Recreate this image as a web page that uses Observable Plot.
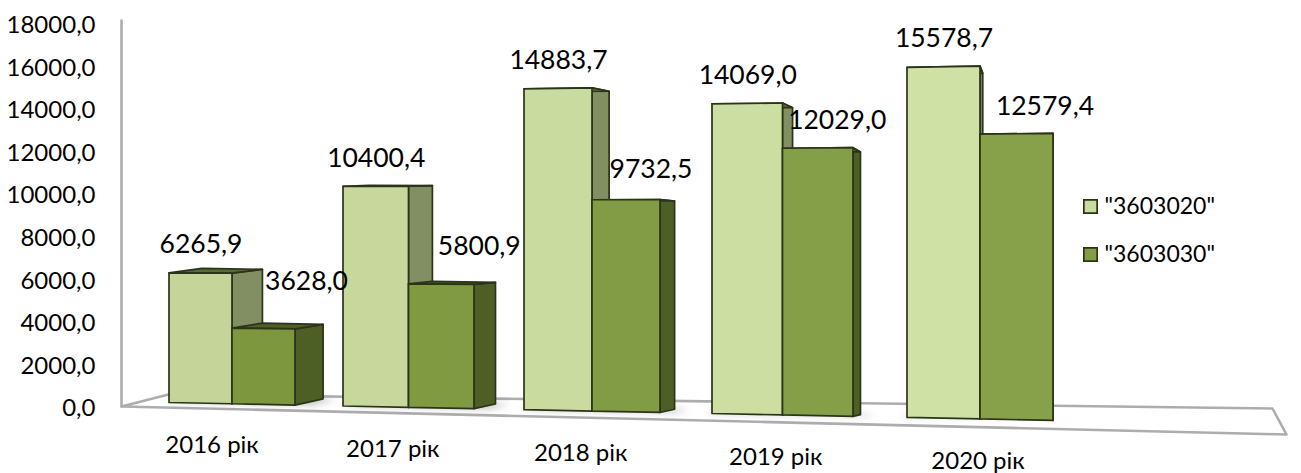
<!DOCTYPE html>
<html><head><meta charset="utf-8">
<script src="https://cdn.jsdelivr.net/npm/d3@7"></script>
<script src="https://cdn.jsdelivr.net/npm/@observablehq/plot@0.6"></script>
<style>
html,body{margin:0;padding:0;background:#fff}
svg{display:block}
g[aria-label="line"][fill="#7f7f7f"]{filter:blur(3.5px)}
g[aria-label="line"][stroke="#2b3419"]{filter:blur(.4px)}
g[aria-label="line"][stroke="#adadad"]{filter:blur(.5px)}
</style></head><body><div id="chart"></div>
<script>
// ---- data ----
const categories = ["2016 рік","2017 рік","2018 рік","2019 рік","2020 рік"];
const seriesNames = ['"3603020"','"3603030"'];
const series3603020 = [6265.9,10400.4,14883.7,14069.0,15578.7];
const series3603030 = [3628.0,5800.9,9732.5,12029.0,12579.4];
const yTicks = [0,2000,4000,6000,8000,10000,12000,14000,16000,18000];

// ---- look ----
const W = 1301, H = 473;
const yBase = 407, yTop = 24;                 // pixel range of the value axis
const unit = (yBase - yTop) / 18000;          // px per value unit on the wall
const toU = px => (yBase - px) / unit;        // pixel offset -> axis units
const comma = v => d3.format(".1f")(v).replace(".", ",");
const outline = "#2b3419";
const frontA = d3.interpolateRgb("#c5d59a", "#cfe1a5");
const frontB = d3.interpolateRgb("#7c973e", "#86a14a");
const sideA = "#818f63", topA = "#5b6b36", sideB = "#4e5f26", topB = "#4f6026";

// ---- oblique projection of the 3-D column chart ----
const leftOf = c => 168.5 + 170.5 * c + 3.5 * c * c;
const widthOf = c => 63 + 2.5 * c;
const xFront = (c, s) => leftOf(c) + s * widthOf(c);
const floorAt = x => 402 + (x - 169) * 0.0203;
const kAt = x => 0.0207 + (x - 169) * 0.0000024;
function P(c, s, d, v) {
  const x0 = xFront(c, s);
  const dx = (1054 - x0) * 0.037 * d;
  const py = floorAt(x0) - 0.22 * dx - v * kAt(x0) * (1 - 0.022 * d);
  return {x: x0 + dx, y: toU(py)};
}
function closed(...pts){ return [...pts, pts[0]]; }
function face(pts, fill) {
  return Plot.line(pts, {x:"x", y:"y", fill, stroke: outline, strokeWidth: 1.7});
}
function column(c, s, v, front, side, top) {
  const a = s, b = s + 1;
  return [
    face(closed(P(c,b,0,0),P(c,b,1,0),P(c,b,1,v),P(c,b,0,v)), side),
    face(closed(P(c,a,0,v),P(c,b,0,v),P(c,b,1,v),P(c,a,1,v)), top),
    face(closed(P(c,a,0,0),P(c,b,0,0),P(c,b,0,v),P(c,a,0,v)), front)
  ];
}

// floor and wall
const floorPts = closed(
  {x:121,y:toU(406)},{x:1286,y:toU(434)},{x:1272,y:toU(408)},{x:168,y:toU(394)}
);
const wallPts = [{x:121,y:toU(406)},{x:121,y:toU(20)}];

// category labels follow the front edge of the floor
const catRows = categories.map((name,c) => {
  const gc = xFront(c,1);
  return {name, x: gc - (1000 - gc) * 0.024 - 1.5, y: toU(floorAt(gc) + 42)};
});
// value labels
const nudgeB = [[43,-47],[38,-38],[25,-30],[19.5,-27],[28.5,-27]];
const labelRows = [
  ...series3603020.map((v,c) => {
    const x0 = xFront(c,0.5), top = yBase - P(c,0.5,0,v).y * unit;
    return {t: comma(v), x: x0 + 0.5, y: toU(top - 28)};
  }),
  ...series3603030.map((v,c) => {
    const x0 = xFront(c,1.5), top = yBase - P(c,1.5,0,v).y * unit;
    return {t: comma(v), x: x0 + nudgeB[c][0], y: toU(top + nudgeB[c][1])};
  })
];
// legend
const legendRows = seriesNames.map((name,i) => ({
  name, x: 1090, xt: 1104, y: toU(206 + i * 48),
  fill: i ? frontB(0.7) : frontA(0.5)
}));

const marks = [
  Plot.line(floorPts, {x:"x",y:"y",fill:"#fff",stroke:"#adadad",strokeWidth:2.6}),
  ...categories.map((_,c) => Plot.line(
    closed(P(c,-0.14,0.2,0),P(c,2.18,0.2,0),P(c,2.22,1,0),P(c,-0.1,1,0)),
    {x:"x",y:"y",fill:"#7f7f7f",fillOpacity:0.7})),
  Plot.line(wallPts, {x:"x",y:"y",stroke:"#adadad",strokeWidth:2.6}),
  ...categories.flatMap((_,c) => [
    ...column(c,0,series3603020[c],frontA(c/4),sideA,topA),
    ...column(c,1,series3603030[c],frontB(c/4),sideB,topB)
  ]),
  Plot.axisY({ticks:yTicks,tickSize:0,tickPadding:0,label:null,fontSize:24,tickFormat:comma,anchor:"left",dy:1}),
  Plot.text(labelRows,{x:"x",y:"y",text:"t",fontSize:26.5,fill:"#000"}),
  Plot.text(catRows,{x:"x",y:"y",text:"name",fontSize:24,fill:"#000"}),
  Plot.dot(legendRows,{x:"x",y:"y",symbol:"square",r:7.5,fill:"fill",stroke:outline,strokeWidth:1.7}),
  Plot.text(legendRows,{x:"xt",y:"y",text:"name",textAnchor:"start",fontSize:23,fill:"#000"})
];

const chart = Plot.plot({
  width:W,height:H,marginLeft:95,marginRight:0,marginTop:0,marginBottom:0,
  style:{fontFamily:"Lato, 'Noto Sans', sans-serif",background:"#fff",color:"#000"},
  x:{domain:[95,W],range:[95,W],axis:null},
  y:{domain:[0,18000],range:[yBase,yTop]},
  marks
});
document.getElementById("chart").append(chart);
</script></body></html>
